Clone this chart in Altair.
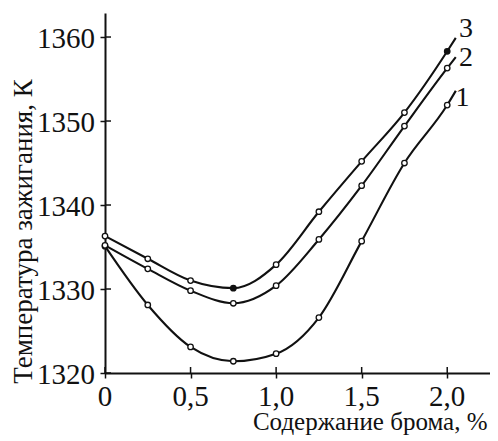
import altair as alt
import pandas as pd

# Data
x_pts = [0.0, 0.25, 0.5, 0.75, 1.0, 1.25, 1.5, 1.75, 2.0]
curve1 = [1335.1, 1328.1, 1323.1, 1321.4, 1322.3, 1326.6, 1335.7, 1345.0, 1351.9]
curve2 = [1335.2, 1332.4, 1329.8, 1328.3, 1330.4, 1335.9, 1342.3, 1349.4, 1356.3]
curve3 = [1336.3, 1333.6, 1331.0, 1330.1, 1332.9, 1339.2, 1345.2, 1351.0, 1358.3]
# line tails that continue a little past the last marker
tail_x = [2.05, 2.05, 2.05]
tail_y = [1353.6, 1357.6, 1359.9]
# filled markers (curve 3 only)
filled_c3 = [False, False, False, True, False, False, False, False, True]

labels = ["1", "2", "3"]
label_x = [2.09, 2.11, 2.11]
label_y = [1352.7, 1357.5, 1360.95]

x_ticks = [0, 0.5, 1.0, 1.5, 2.0]
x_tick_labels = ["0", "0,5", "1,0", "1,5", "2,0"]
y_ticks = [1320, 1330, 1340, 1350, 1360]
y_tick_labels = ["1320", "1330", "1340", "1350", "1360"]

curves = {"1": curve1, "2": curve2, "3": curve3}

pts_rows = []
line_rows = []
for i, (name, vals) in enumerate(curves.items()):
    for j, (x, y) in enumerate(zip(x_pts, vals)):
        filled = (name == "3" and filled_c3[j])
        pts_rows.append({"c": name, "x": x, "y": y, "filled": filled})
        line_rows.append({"c": name, "x": x, "y": y})
    line_rows.append({"c": name, "x": tail_x[i], "y": tail_y[i]})

pts = pd.DataFrame(pts_rows)
lines = pd.DataFrame(line_rows)
lab = pd.DataFrame({"t": labels, "x": label_x, "y": label_y})
xt = pd.DataFrame({"v": x_ticks, "t": x_tick_labels})
yt = pd.DataFrame({"v": y_ticks, "t": y_tick_labels})

FONT = "'Liberation Serif', 'Times New Roman', 'DejaVu Serif', serif"
INK = "#111111"

xs = alt.Scale(domain=[0, 2.25], nice=False, zero=False)
ys = alt.Scale(domain=[1320, 1362.86], nice=False, zero=False)

xaxis = alt.Axis(
    values=x_ticks, labels=False, title="Содержание брома, %",
    titleFont=FONT, titleFontSize=25, titleFontWeight="normal", titleColor=INK,
    titleAnchor="end", titleAlign="right", titleX=382, titleY=56,
    titleBaseline="alphabetic",
    tickSize=5, tickWidth=1.5, tickColor=INK, domainColor=INK, domainWidth=2,
    grid=False,
)
yaxis = alt.Axis(
    values=y_ticks, labels=False, title="Температура зажигания, К",
    titleFont=FONT, titleFontSize=27, titleFontWeight="normal", titleColor=INK,
    titleX=-82, titleY=218, titleAlign="center", titleBaseline="middle", titleAngle=270,
    tickSize=5, tickWidth=1.5, tickColor=INK, domainColor=INK, domainWidth=2,
    grid=False,
)

line_layer = alt.Chart(lines).mark_line(
    interpolate="monotone", color=INK, strokeWidth=2.1, clip=False
).encode(
    x=alt.X("x:Q", scale=xs, axis=xaxis),
    y=alt.Y("y:Q", scale=ys, axis=yaxis),
    detail="c:N",
)

pt_layer = alt.Chart(pts).mark_point(
    shape="circle", size=30, strokeWidth=1.3, color=INK, opacity=1, clip=False
).encode(
    x=alt.X("x:Q", scale=xs),
    y=alt.Y("y:Q", scale=ys),
    fill=alt.condition("datum.filled", alt.value(INK), alt.value("white")),
)

lab_layer = alt.Chart(lab).mark_text(
    font=FONT, fontSize=28, color=INK, baseline="middle", align="center", clip=False
).encode(
    x=alt.X("x:Q", scale=xs),
    y=alt.Y("y:Q", scale=ys),
    text="t:N",
)

# tick labels drawn as text through the same scales
xlab = alt.Chart(xt).mark_text(
    font=FONT, fontSize=29, color=INK, baseline="middle", align="center", clip=False
).encode(
    x=alt.X("v:Q", scale=xs), y=alt.value(384), text="t:N"
)
ylab = alt.Chart(yt).mark_text(
    font=FONT, fontSize=29, color=INK, baseline="middle", align="right", clip=False, dy=2
).encode(
    y=alt.Y("v:Q", scale=ys), x=alt.value(-10), text="t:N"
)

# inner halves of the ticks (ticks cross the axis lines)
yin = alt.Chart(yt).mark_rule(color=INK, strokeWidth=1.5).encode(
    y=alt.Y("v:Q", scale=ys), x=alt.value(0), x2=alt.value(6)
)
xin = alt.Chart(xt).mark_rule(color=INK, strokeWidth=1.5).encode(
    x=alt.X("v:Q", scale=xs), y=alt.value(360), y2=alt.value(354)
)

chart = alt.layer(line_layer, yin, xin, pt_layer, lab_layer, xlab, ylab).properties(
    width=385, height=360,
    autosize=alt.AutoSizeParams(type="none"),
    padding={"left": 97, "top": 5, "right": 0, "bottom": 64},
    background="white",
).configure_view(stroke=None)

chart.save("out.html", embed_options={"renderer": "svg", "actions": False})
